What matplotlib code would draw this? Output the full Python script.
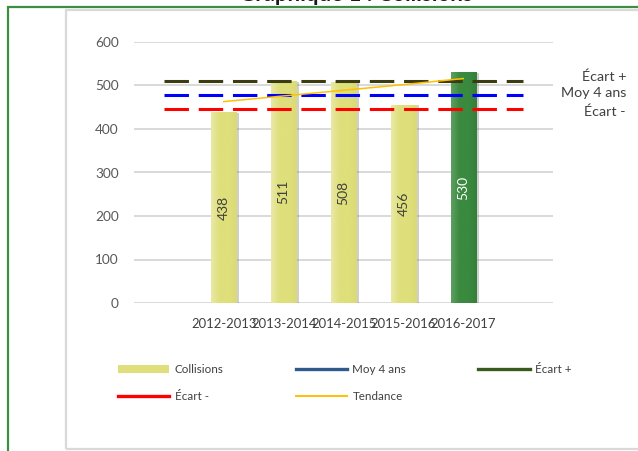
import matplotlib
matplotlib.use("Agg")
import matplotlib.pyplot as plt
import numpy as np
from matplotlib import patheffects as pe
from matplotlib.lines import Line2D
from matplotlib.patches import Rectangle, Patch
from matplotlib.colors import LinearSegmentedColormap

plt.rcParams['font.family'] = ['Lato', 'DejaVu Sans']

# ---- data ----
categories = ["", "2012-2013", "2013-2014", "2014-2015", "2015-2016", "2016-2017", ""]
collisions = [np.nan, 438, 511, 508, 456, 530, np.nan]
moy_4_ans = [478, 478, 478, 478, 478, 478, 478]
ecart_plus = [511, 511, 511, 511, 511, 511, 511]
ecart_moins = [447, 447, 447, 447, 447, 447, 447]
tendance = [np.nan, 463, 476, 489, 502, 516, np.nan]
yticks = [0, 100, 200, 300, 400, 500, 600]
title = "Graphique 1 : Collisions"

W, H = 638, 451
fig = plt.figure(figsize=(W / 100, H / 100), dpi=100)

def fx(px):
    return px / W

def fy(py):
    return 1 - py / H

# frames
fig.add_artist(Rectangle((fx(8), fy(470)), 1.2, fy(7) - fy(470), transform=fig.transFigure,
                         fill=False, edgecolor='#3E8E41', lw=1.6, zorder=0))
fig.add_artist(Rectangle((fx(66), fy(449)), 1.2, fy(10) - fy(449), transform=fig.transFigure,
                         fill=False, edgecolor='#D9D9D9', lw=1.6, zorder=0))

fig.text(fx(356), fy(5), title, ha='center', va='bottom', fontsize=16, fontweight='bold',
         color='#1a1a1a')

ax = fig.add_axes([fx(134), fy(303), fx(553) - fx(134), fy(42) - fy(303)])
ax.set_facecolor('none')
for s in ax.spines.values():
    s.set_visible(False)

x = np.arange(len(categories))
ax.set_yticks(yticks)
ax.yaxis.grid(True, color='#D9D9D9', lw=1.4)
ax.set_axisbelow(True)
ax.tick_params(axis='both', length=0)
ax.tick_params(axis='y', pad=11, labelsize=9.8, labelcolor='#595959')
ax.tick_params(axis='x', pad=11, labelsize=9.4, labelcolor='#404040')
ax.set_xticks(x)
ax.set_xticklabels(categories)

# bars
yellow = '#DFDF7B'
green = '#3A8A3F'
cm_y = LinearSegmentedColormap.from_list('y', ['#E9E9A6', '#DFDF7B', '#DFDF7B', '#DADA76'])
cm_g = LinearSegmentedColormap.from_list('g', ['#5E9F61', '#3A8A3F', '#3A8A3F', '#35803A'])
grad = np.linspace(0, 1, 64).reshape(1, -1)
valid = [i for i, v in enumerate(collisions) if np.isfinite(v)]
last = valid[-1]
for i in valid:
    v = collisions[i]
    col = green if i == last else yellow
    cmap = cm_g if i == last else cm_y
    b = ax.bar(x[i], v, width=0.42, color=col, zorder=2,
               path_effects=[pe.SimplePatchShadow(offset=(2.2, -0.6), shadow_rgbFace='#777777', alpha=0.35),
                             pe.Normal()])[0]
    im = ax.imshow(grad, extent=[x[i] - 0.21, x[i] + 0.21, 0, v], aspect='auto', cmap=cmap,
                   zorder=2.1, interpolation='bilinear')
    im.set_clip_path(b)
    ax.text(x[i], v / 2, f"{v}", rotation=90, ha='center', va='center', fontsize=10,
            color='white' if i == last else '#404040', zorder=3)

lw = 2.2
ax.plot(x, ecart_plus, color='#3C3C12', lw=lw, dashes=(8, 3.2), zorder=4)
ax.plot(x, moy_4_ans, color='#0000FF', lw=lw, dashes=(8, 3.2), zorder=4)
ax.plot(x, ecart_moins, color='#FF0000', lw=lw, dashes=(8, 3.2), zorder=4)
ax.plot(x, tendance, color='#FFC000', lw=1.1, zorder=5)

ax.set_xlim(-0.5, 6.5)
ax.set_ylim(0, 600)

# right-side labels
fig.text(fx(626), fy(77), "Écart +", ha='right', va='center', fontsize=10.3, color='#404040')
fig.text(fx(626), fy(93), "Moy 4 ans", ha='right', va='center', fontsize=10.3, color='#404040')
fig.text(fx(626), fy(112), "Écart -", ha='right', va='center', fontsize=10.3, color='#404040')

# legend
handles = [
    Patch(facecolor=yellow, edgecolor='none'),
    Line2D([], [], color='#FF0000', lw=2.4),
    Line2D([], [], color='#2E5A8E', lw=2.4),
    Line2D([], [], color='#FFC000', lw=1.4),
    Line2D([], [], color='#3A5A1E', lw=2.4),
]
labels = ["Collisions", "Écart -", "Moy 4 ans", "Tendance", "Écart +"]
leg = fig.legend(handles, labels, ncol=3, loc='upper left', bbox_to_anchor=(fx(118), fy(364)),
                 frameon=False, borderpad=0, borderaxespad=0, fontsize=8.4, handlelength=4.4,
                 handleheight=0.7, handletextpad=0.45, columnspacing=6.2, labelspacing=1.35,
                 labelcolor='#404040')

fig.savefig("out.png", dpi=100)
